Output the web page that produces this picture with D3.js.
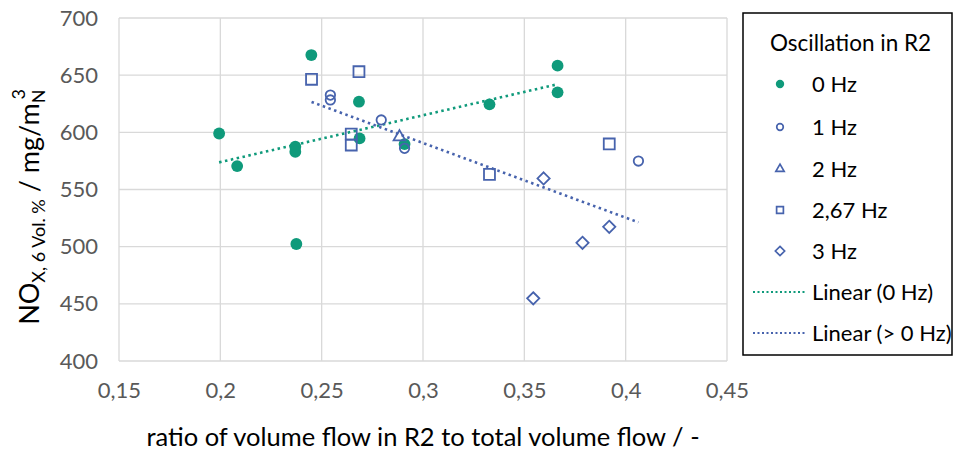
<!DOCTYPE html>
<html><head><meta charset="utf-8">
<script src="https://cdn.jsdelivr.net/npm/d3@7"></script>
<style>body{margin:0;background:#fff;} svg{display:block;}</style>
</head><body>
<svg id="c" width="954" height="450"></svg>
<script>
// ---- data ----
const hz0 = [[0.1994,599],[0.2083,570.5],[0.237,587.4],[0.237,583],[0.2375,502.3],[0.2449,667.6],[0.2684,626.8],[0.2687,594.7],[0.2909,589.7],[0.3328,624.5],[0.3664,658.3],[0.3664,635]];
const hz1 = [[0.2543,632.6],[0.2543,628.3],[0.2794,610.8],[0.2909,586],[0.4063,574.9]];
const hz2 = [[0.2884,596]];
const hz267 = [[0.245,646.4],[0.2684,653],[0.2646,598.5],[0.2646,588.9],[0.3328,563.2],[0.3919,589.8]];
const hz3 = [[0.3595,559.7],[0.3787,503.4],[0.3919,517.4],[0.3544,454.8]];
const xTicks = [0.15,0.2,0.25,0.3,0.35,0.4,0.45];
const yTicks = [400,450,500,550,600,650,700];
const legendLabels = ["0 Hz","1 Hz","2 Hz","2,67 Hz","3 Hz","Linear (0 Hz)","Linear (> 0 Hz)"];

const green = "#0f9a7b", blue = "#4763ad", grid = "#d9d9d9", tickCol = "#595959";
const svg = d3.select("#c");
const x = d3.scaleLinear().domain([0.15,0.45]).range([119,727]);
const y = d3.scaleLinear().domain([400,700]).range([361,18]);
const font = "Lato, 'Open Sans', sans-serif";

// grid
svg.append("g").selectAll("line").data(yTicks).join("line")
  .attr("x1",x(0.15)).attr("x2",x(0.45)).attr("y1",d=>y(d)).attr("y2",d=>y(d))
  .attr("stroke",grid).attr("stroke-width",1.3);
svg.append("g").selectAll("line").data(xTicks).join("line")
  .attr("y1",y(400)).attr("y2",y(700)).attr("x1",d=>x(d)).attr("x2",d=>x(d))
  .attr("stroke",grid).attr("stroke-width",1.3);

// axes labels
const fmt = d => String(d).replace(".",",");
const xa = svg.append("g").attr("transform",`translate(0,${y(400)})`)
  .call(d3.axisBottom(x).tickValues(xTicks).tickFormat(fmt).tickSize(0).tickPadding(21));
const ya = svg.append("g").attr("transform",`translate(${x(0.15)},0)`)
  .call(d3.axisLeft(y).tickValues(yTicks).tickSize(0).tickPadding(21));
[xa,ya].forEach(a=>{a.select(".domain").remove();
  a.selectAll("text").attr("fill",tickCol).style("font-family",font).style("font-size","22px");});

// regression
function reg(pts){const mx=d3.mean(pts,p=>p[0]),my=d3.mean(pts,p=>p[1]);
  let sxy=0,sxx=0;pts.forEach(p=>{sxy+=(p[0]-mx)*(p[1]-my);sxx+=(p[0]-mx)**2;});
  const b=sxy/sxx,a=my-b*mx;const x0=d3.min(pts,p=>p[0]),x1=d3.max(pts,p=>p[0]);
  return [[x0,a+b*x0],[x1,a+b*x1]];}
const blueAll = [...hz1,...hz2,...hz267,...hz3];
const line = d3.line().x(d=>x(d[0])).y(d=>y(d[1]));
svg.append("path").attr("d",line(reg(hz0))).attr("stroke",green).attr("stroke-width",2.6)
  .attr("stroke-dasharray","2.5 3.5").attr("fill","none");
svg.append("path").attr("d",line(reg(blueAll))).attr("stroke",blue).attr("stroke-width",2.6)
  .attr("stroke-dasharray","2.5 3.5").attr("fill","none");

// markers
function sym(type,size){return d3.symbol().type(type).size(size)();}
const mk = [
  {data:hz0,type:d3.symbolCircle,size:110,fill:green,stroke:"none"},
  {data:hz1,type:d3.symbolCircle,size:70,fill:"none",stroke:blue},
  {data:hz2,type:d3.symbolTriangle,size:60,fill:"none",stroke:blue},
  {data:hz267,type:d3.symbolSquare,size:120,fill:"none",stroke:blue},
  {data:hz3,type:d3.symbolDiamond2,size:95,fill:"none",stroke:blue}
];
mk.forEach(m=>{
  svg.append("g").selectAll("path").data(m.data).join("path")
   .attr("d",sym(m.type,m.size)).attr("transform",d=>`translate(${x(d[0])},${y(d[1])})`)
   .attr("fill",m.fill).attr("stroke",m.stroke).attr("stroke-width",1.8);
});

// axis titles
svg.append("text").attr("x",423).attr("y",446).attr("text-anchor","middle")
  .style("font-family",font).style("font-size","25.5px").attr("fill","#000")
  .text("ratio of volume flow in R2 to total volume flow / -");
const yt = svg.append("text").attr("transform","translate(39,207) rotate(-90)").attr("text-anchor","middle")
  .style("font-family",font).style("font-size","27px").attr("fill","#000");
yt.append("tspan").text("NO");
yt.append("tspan").attr("dy",6).style("font-size","18px").text("X, 6 Vol. %");
yt.append("tspan").attr("dy",-6).text(" / mg/m");
yt.append("tspan").attr("dy",6).style("font-size","18px").text("N");
yt.append("tspan").attr("dy",-20).attr("dx",-10).style("font-size","18px").text("3");

// legend
const lg = svg.append("g");
lg.append("rect").attr("x",743).attr("y",13).attr("width",209).attr("height",342)
  .attr("fill","#fff").attr("stroke","#000").attr("stroke-width",1.5);
lg.append("text").attr("x",770).attr("y",51).style("font-family",font).style("font-size","22.5px")
  .attr("fill","#000").text("Oscillation in R2");
const rows = [84,127,169,210,251,292,333];
const lmk = [
  {type:d3.symbolCircle,size:55,fill:green,stroke:"none"},
  {type:d3.symbolCircle,size:34,fill:"none",stroke:blue},
  {type:d3.symbolTriangle,size:30,fill:"none",stroke:blue},
  {type:d3.symbolSquare,size:46,fill:"none",stroke:blue},
  {type:d3.symbolDiamond2,size:55,fill:"none",stroke:blue}
];
legendLabels.forEach((t,i)=>{
  const ry = rows[i];
  if(i<5){const m=lmk[i];
    lg.append("path").attr("d",sym(m.type,m.size)).attr("transform",`translate(780,${ry})`)
      .attr("fill",m.fill).attr("stroke",m.stroke).attr("stroke-width",1.7);
  } else {
    lg.append("line").attr("x1",753).attr("x2",805).attr("y1",ry).attr("y2",ry)
      .attr("stroke",i===5?green:blue).attr("stroke-width",2).attr("stroke-dasharray","2 2.5");
  }
  lg.append("text").attr("x",812).attr("y",ry+8).style("font-family",font).style("font-size","22px")
    .attr("fill","#000").text(t);
});
</script>
</body></html>
